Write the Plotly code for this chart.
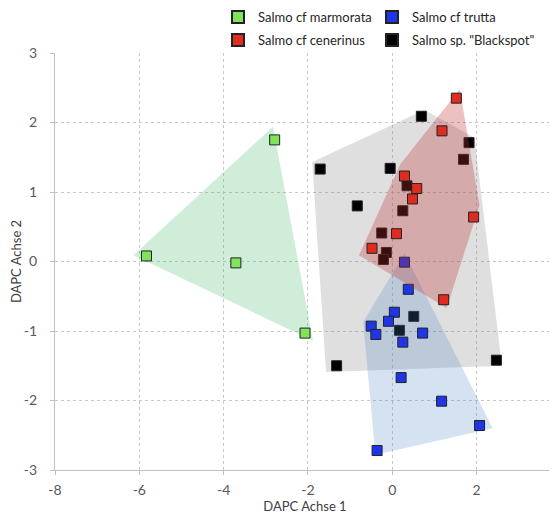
import plotly.graph_objects as go

# ---- data ----
groups = ["Salmo cf marmorata", "Salmo cf cenerinus", "Salmo cf trutta", 'Salmo sp. "Blackspot"']

marm_x = [-2.79, -5.83, -3.71, -2.07]
marm_y = [1.75, 0.08, -0.02, -1.03]

cen_x = [1.52, 1.18, 0.29, 0.58, 0.48, 1.93, 0.10, -0.48, 1.22]
cen_y = [2.35, 1.88, 1.23, 1.05, 0.90, 0.64, 0.40, 0.19, -0.55]

tru_x = [0.29, 0.38, 0.05, -0.09, -0.50, -0.39, 0.72, 0.25, 0.21, 1.17, 2.07, -0.36]
tru_y = [-0.01, -0.40, -0.73, -0.86, -0.93, -1.05, -1.03, -1.16, -1.67, -2.01, -2.36, -2.72]

bls_x = [0.69, 1.82, 1.69, -1.71, -0.05, 0.35, -0.83, 0.25, -0.25, -0.14, -0.21, 0.51, 0.17, -1.32, 2.47]
bls_y = [2.09, 1.71, 1.47, 1.33, 1.34, 1.09, 0.80, 0.73, 0.41, 0.13, 0.03, -0.79, -0.99, -1.50, -1.42]

# hull polygons (vertices)
marm_hx = [-6.14, -2.83, -1.88]
marm_hy = [0.09, 1.94, -1.14]
cen_hx = [-0.79, 0.19, 1.60, 2.07, 1.29]
cen_hy = [0.09, 1.40, 2.48, 0.81, -0.67]
tru_hx = [0.29, 2.38, -0.40, -0.69]
tru_hy = [0.12, -2.40, -2.78, -0.87]
bls_hx = [-1.90, 0.76, 1.95, 2.60, -1.57]
bls_hy = [1.43, 2.18, 1.78, -1.50, -1.59]

x_ticks = [-8, -6, -4, -2, 0, 2]
x_ticktext = ["-8", "-6", "-4", "-2", "0", "2"]
y_ticks = [-3, -2, -1, 0, 1, 2, 3]
y_ticktext = ["-3", "-2", "-1", "0", "1", "2", "3"]

# ---- styles ----
FONT = "Lato, 'Open Sans', sans-serif"
mk_col = {"marm": "#80E35A", "cen": "#E02B20", "tru": "#1F35E8", "bls": "#000000"}
fill_col = {
    "marm": "rgba(80,190,120,0.27)",
    "cen": "rgba(190,50,50,0.30)",
    "tru": "rgba(70,130,200,0.23)",
    "bls": "rgba(128,128,128,0.25)",
}

def poly(hx, hy, key):
    return go.Scatter(x=hx + hx[:1], y=hy + hy[:1], mode="lines", fill="toself",
                      fillcolor=fill_col[key], line=dict(width=0, color="rgba(0,0,0,0)"),
                      hoverinfo="skip", showlegend=False)

def pts(x, y, key, name, legend):
    return go.Scatter(x=x, y=y, mode="markers", name=name, legend=legend,
                      marker=dict(symbol="square", size=10, color=mk_col[key],
                                  line=dict(width=1, color="#222222")))

fig = go.Figure()
fig.add_trace(poly(bls_hx, bls_hy, "bls"))
fig.add_trace(poly(marm_hx, marm_hy, "marm"))
fig.add_trace(pts(marm_x, marm_y, "marm", groups[0], "legend"))
fig.add_trace(pts(bls_x, bls_y, "bls", groups[3], "legend4"))
fig.add_trace(poly(tru_hx, tru_hy, "tru"))
fig.add_trace(pts(tru_x, tru_y, "tru", groups[2], "legend3"))
fig.add_trace(poly(cen_hx, cen_hy, "cen"))
fig.add_trace(pts(cen_x, cen_y, "cen", groups[1], "legend2"))

axis_common = dict(
    showgrid=True, gridcolor="#c8c8c8", griddash="3px,3px", gridwidth=1,
    zeroline=False, showline=True, linecolor="#bfbfbf", linewidth=1,
    ticks="outside", ticklen=4, tickcolor="#bfbfbf",
    tickfont=dict(family=FONT, size=14, color="#595959"),
)

legend_common = dict(font=dict(family=FONT, size=13, color="#262626"),
                     bgcolor="rgba(0,0,0,0)", xanchor="left", yanchor="top",
                     itemsizing="constant")

# the page body adds an 8px offset; margins compensate for it
fig.update_layout(
    width=557, height=513,
    margin=dict(l=47, r=10, t=45, b=51, autoexpand=False),
    paper_bgcolor="white", plot_bgcolor="white",
    font=dict(family=FONT),
    xaxis=dict(range=[-8, 3.86], tickvals=x_ticks, ticktext=x_ticktext,
               ticklabelstandoff=3,
               title=dict(text="DAPC Achse 1", font=dict(family=FONT, size=13, color="#404040"),
                          standoff=0),
               **axis_common),
    yaxis=dict(range=[-3, 3], tickvals=y_ticks, ticktext=y_ticktext,
               ticklabelstandoff=10,
               title=dict(text="DAPC Achse 2", font=dict(family=FONT, size=13, color="#404040"),
                          standoff=0),
               **axis_common),
    legend=dict(x=0.326, y=1.122, **legend_common),
    legend2=dict(x=0.326, y=1.067, **legend_common),
    legend3=dict(x=0.634, y=1.122, **legend_common),
    legend4=dict(x=0.634, y=1.067, **legend_common),
)

fig.write_html("out.html")
